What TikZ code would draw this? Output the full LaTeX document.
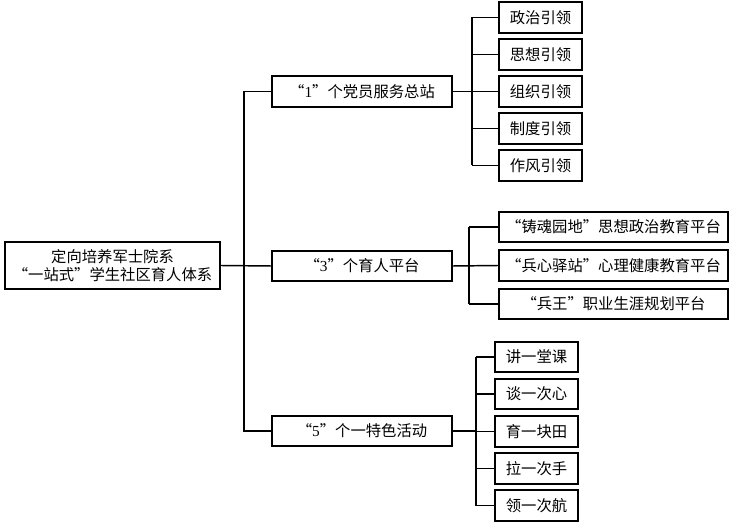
\documentclass[tikz,border=0pt]{standalone}
\usepackage{fontspec}
\setmainfont{Noto Sans CJK SC}
\newfontfamily\numf{Liberation Serif}
\begin{document}
\begin{tikzpicture}[x=0.75pt,y=-0.75pt,line width=1.1pt,
  bx/.style={draw,fill=white,inner sep=0pt,font=\fontsize{11.5}{14}\selectfont},
  ln/.style={draw}]
\useasboundingbox (0,0) rectangle (734,523);
\newcommand\bb[6]{\node[bx,minimum width=#4*0.75pt-#2*0.75pt,minimum height=#5*0.75pt-#3*0.75pt,align=center] (#1) at ({(#2+#4)/2},{(#3+#5)/2}) {#6};}
\bb{root}{5}{242}{220}{289}{定向培养军士院系\\“一站式”学生社区育人体系}
\bb{m1}{272}{76}{452}{107}{“{\numf 1}”个党员服务总站}
\bb{m3}{272}{251}{452}{281}{“{\numf 3}”个育人平台}
\bb{m5}{272}{416}{452}{446}{“{\numf 5}”个一特色活动}
\bb{a1}{499}{2}{582}{33}{政治引领}
\bb{a2}{499}{39}{582}{70}{思想引领}
\bb{a3}{499}{76}{582}{107}{组织引领}
\bb{a4}{499}{113}{582}{144}{制度引领}
\bb{a5}{499}{150}{582}{181}{作风引领}
\bb{b1}{499}{212}{728}{242}{“铸魂园地”思想政治教育平台}
\bb{b2}{499}{250}{728}{281}{“兵心驿站”心理健康教育平台}
\bb{b3}{499}{289}{728}{319}{“兵王”职业生涯规划平台}
\bb{c1}{495}{342}{578}{372}{讲一堂课}
\bb{c2}{495}{379}{578}{409}{谈一次心}
\bb{c3}{495}{416}{578}{447}{育一块田}
\bb{c4}{495}{453}{578}{484}{拉一次手}
\bb{c5}{495}{490}{578}{521}{领一次航}
\coordinate (t) at (244,0);
\draw (root.east) -- (m3.west);
\draw (m1.west) -| (t |- m5.west) -- (m5.west);
\coordinate (ta) at (472,0);
\draw (m1.east) -- (ta |- m1.east);
\foreach \n in {a1,a2,a3,a4,a5} \draw (ta |- \n.west) -- (\n.west);
\draw (ta |- a1.west) -- (ta |- a5.west);
\coordinate (tb) at (469,0);
\draw (m3.east) -- (b2.west);
\foreach \n in {b1,b3} \draw (tb |- \n.west) -- (\n.west);
\draw (tb |- b1.west) -- (tb |- b3.west);
\coordinate (tc) at (476,0);
\draw (m5.east) -- (tc |- m5.east);
\foreach \n in {c1,c2,c3,c4,c5} \draw (tc |- \n.west) -- (\n.west);
\draw (tc |- c1.west) -- (tc |- c5.west);
\end{tikzpicture}
\end{document}
